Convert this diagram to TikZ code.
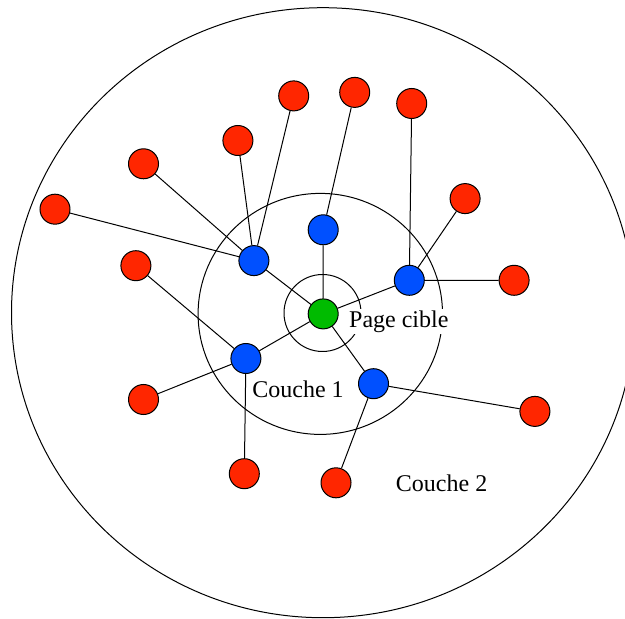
\documentclass[tikz,border=0pt]{standalone}
\usepackage{fontspec}
\setmainfont{Liberation Serif}
\definecolor{nodered}{RGB}{255,38,0}
\definecolor{nodeblue}{RGB}{0,80,255}
\definecolor{nodegreen}{RGB}{0,187,0}
\begin{document}
\begin{tikzpicture}[x=0.5pt,y=-0.5pt,line width=0.5pt,
  dot/.style={circle,draw=black,minimum size=15pt,inner sep=0pt},
  targetdot/.style={dot,fill=nodegreen},
  firstdot/.style={dot,fill=nodeblue},
  seconddot/.style={dot,fill=nodered},
  txt/.style={font=\fontsize{12}{14}\selectfont,inner sep=1pt,anchor=base},
  link/.style={draw=black,line width=0.5pt}]
\useasboundingbox (0,0) rectangle (625,619);
\clip (0,0) rectangle (625,619);
% layers
\draw (323,312.7) ellipse [x radius=311.5,y radius=305];
\draw (320.3,313.9) ellipse [x radius=122.2,y radius=120.5];
\draw (322.5,313) circle [radius=38.5];
% nodes
\node[targetdot] (g) at (323.2,313.9) {};
\node[firstdot] (b1) at (253.9,260.6) {};
\node[firstdot] (b2) at (323.2,229.8) {};
\node[firstdot] (b3) at (409.3,280.3) {};
\node[firstdot] (b4) at (245.9,358.5) {};
\node[firstdot] (b5) at (373.5,383.7) {};
\node[seconddot] (r1) at (55.0,209.2) {};
\node[seconddot] (r2) at (143.5,163.8) {};
\node[seconddot] (r3) at (237.9,140.5) {};
\node[seconddot] (r4) at (293.7,95.9) {};
\node[seconddot] (r5) at (354.7,92.4) {};
\node[seconddot] (r6) at (411.7,103.5) {};
\node[seconddot] (r7) at (465.1,198.6) {};
\node[seconddot] (r8) at (514.1,280.3) {};
\node[seconddot] (r9) at (135.9,265.7) {};
\node[seconddot] (r10) at (143.5,399.5) {};
\node[seconddot] (r11) at (244.3,473.7) {};
\node[seconddot] (r12) at (336.0,482.8) {};
\node[seconddot] (r13) at (534.9,411.4) {};
% links
\path[link] (g) -- (b1) (g) -- (b2) (g) -- (b3) (g) -- (b4) (g) -- (b5);
\path[link] (b1) -- (r1) (b1) -- (r2) (b1) -- (r3) (b1) -- (r4);
\path[link] (b2) -- (r5);
\path[link] (b3) -- (r6) (b3) -- (r7) (b3) -- (r8);
\path[link] (b4) -- (r9) (b4) -- (r10) (b4) -- (r11);
\path[link] (b5) -- (r12) (b5) -- (r13);
% labels
\node[txt,fill=white] (pc) at (398.8,327.3) {Page cible};
\node[txt] (c1) at (298,397.3) {Couche 1};
\node[txt] (c2) at (441.6,491) {Couche 2};
\end{tikzpicture}
\end{document}
